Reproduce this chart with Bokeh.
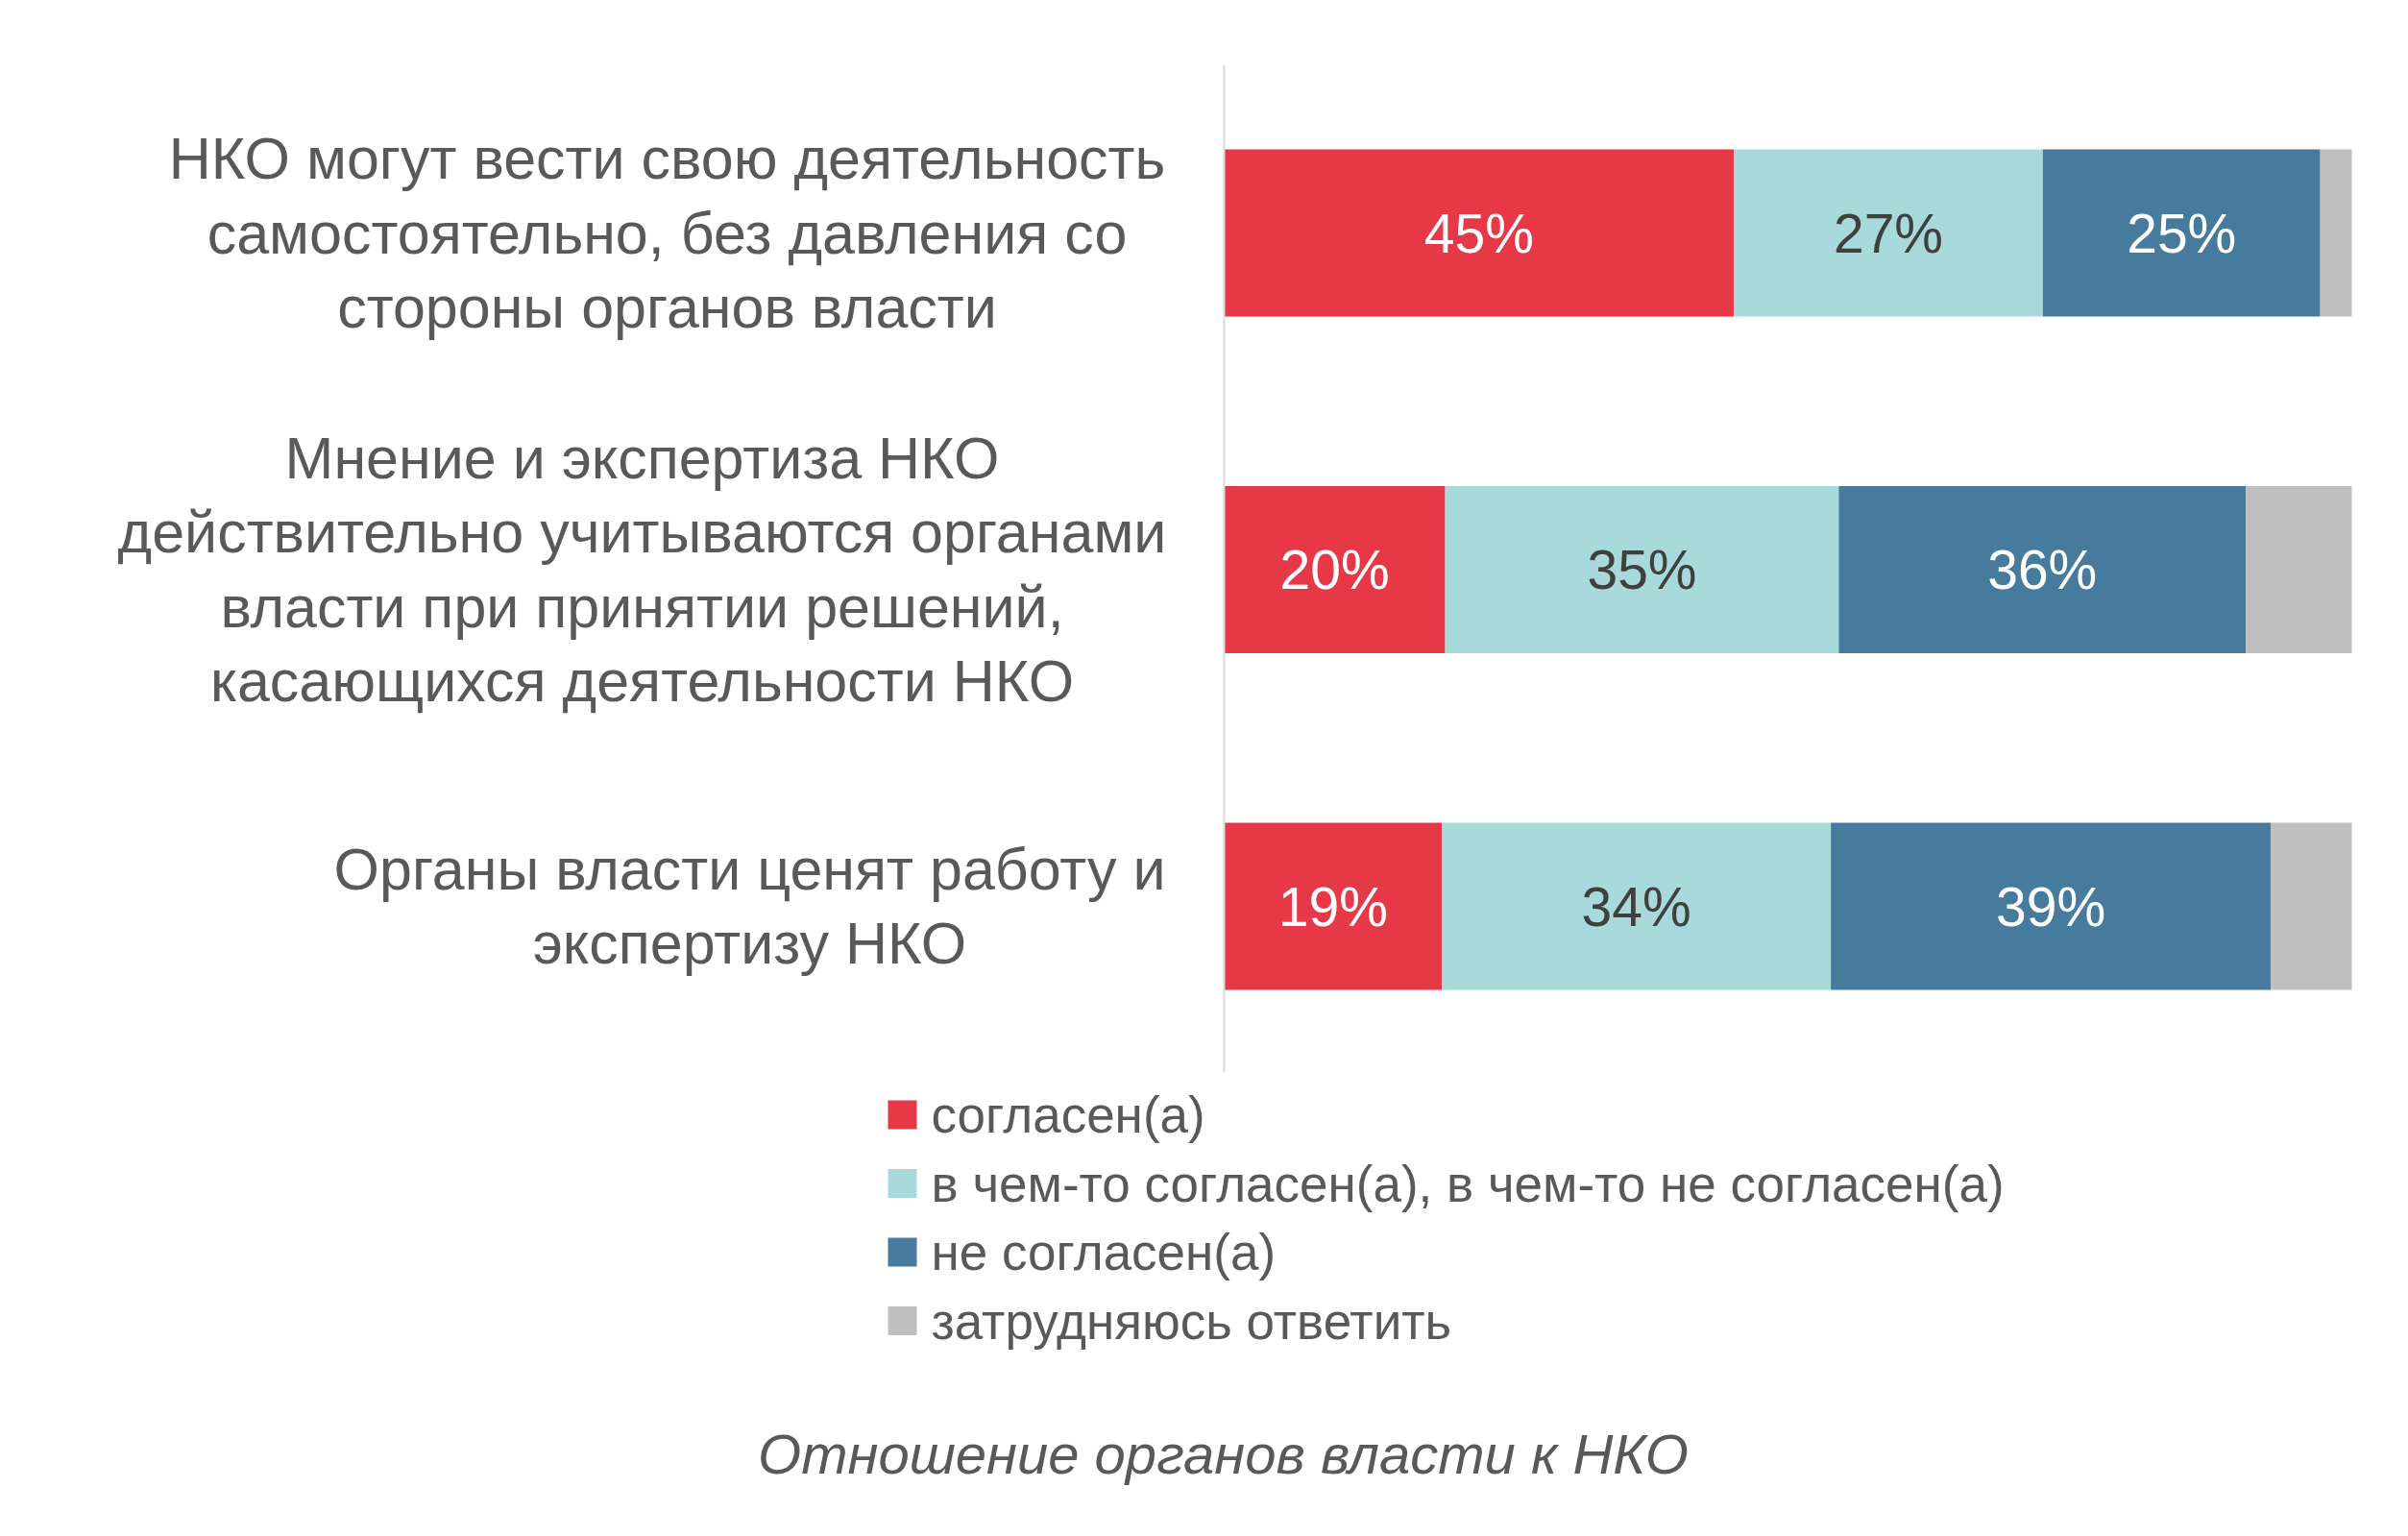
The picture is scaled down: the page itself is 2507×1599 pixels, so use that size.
from bokeh.plotting import figure
from bokeh.models import Range1d, ColumnDataSource
from bokeh.core.properties import value
from bokeh.embed import file_html
from bokeh.resources import INLINE

# ---------------- data ----------------
categories = [
    "НКО могут вести свою деятельность\nсамостоятельно, без давления со\nстороны органов власти",
    "Мнение и экспертиза НКО\nдействительно учитываются органами\nвласти при принятии решений,\nкасающихся деятельности НКО",
    "Органы власти ценят работу и\nэкспертизу НКО",
]
series = ["согласен(а)", "в чем-то согласен(а), в чем-то не согласен(а)",
          "не согласен(а)", "затрудняюсь ответить"]
agree = [45.2, 19.6, 19.3]
partly = [27.4, 34.9, 34.5]
disagree = [24.6, 36.1, 39.0]
hard_to_say = [2.8, 9.4, 7.2]
title_text = "Отношение органов власти к НКО"

colors = ["#E73848", "#A8D9DB", "#467B9D", "#BFBFBF"]
label_colors = ["#FFFFFF", "#404040", "#FFFFFF", None]
TEXT = "#595959"
FONT = "Liberation Sans"

# ---------------- layout (page pixels) ----------------
W, H = 2507, 1599
X0, X100 = 1274, 2448          # px for 0% and 100%
PXU = (X100 - X0) / 100.0
Y0, STEP = 242, 350.5           # px of first category centre, spacing


def dx(page_x):
    return (page_x - X0) / PXU


def dy(page_y):
    return (page_y - Y0) / STEP


p = figure(width=W, height=H, output_backend="svg", toolbar_location=None,
           x_range=Range1d(-X0 / PXU, (W - X0) / PXU),
           y_range=Range1d((H - Y0) / STEP, -Y0 / STEP),
           min_border=0, outline_line_color=None)
p.axis.visible = False
p.grid.visible = False
p.background_fill_color = "white"
p.border_fill_color = "white"

idx = list(range(len(categories)))
keys = ["s0", "s1", "s2", "s3"]
src = ColumnDataSource(dict(y=idx, s0=agree, s1=partly, s2=disagree, s3=hard_to_say))
p.hbar_stack(keys, y="y", height=0.497, color=colors, line_width=0, source=src)

# vertical axis line
p.segment(x0=[0], y0=[dy(67)], x1=[0], y1=[dy(1116)], line_color="#D9D9D9", line_width=2)

# value labels
vals = [agree, partly, disagree, hard_to_say]
for k in range(3):
    xs, ys, ts = [], [], []
    for i in idx:
        left = sum(vals[j][i] for j in range(k))
        xs.append(left + vals[k][i] / 2)
        ys.append(i)
        ts.append(f"{round(vals[k][i])}%")
    p.text(x=xs, y=ys, text=ts, text_align="center", text_baseline="middle",
           text_font=value(FONT), text_font_size="57px", text_color=label_colors[k])

# category labels (lines centred within a right-aligned block)
block_centres = [694, 668, 780]
LINE = 77.3
for i, cat in enumerate(categories):
    lines = cat.split("\n")
    n = len(lines)
    cy = Y0 + STEP * i
    ys = [dy(cy + (j - (n - 1) / 2) * LINE) for j in range(n)]
    p.text(x=[dx(block_centres[i])] * n, y=ys, text=lines, text_align="center",
           text_baseline="middle", text_font=value(FONT), text_font_size="61px",
           text_color=TEXT)

# legend
leg_rows = [1160, 1231.5, 1303, 1374.5]
p.rect(x=[dx(939)] * 4, y=[dy(r) for r in leg_rows], width=30, height=30,
       width_units="screen", height_units="screen", color=colors, line_width=0)
p.text(x=[dx(969)] * 4, y=[dy(r) for r in leg_rows], text=series,
       text_align="left", text_baseline="middle", text_font=value(FONT),
       text_font_size="53px", text_color=TEXT)

# title
p.text(x=[dx(1273)], y=[dy(1513)], text=[title_text], text_align="center",
       text_baseline="middle", text_font=value(FONT), text_font_style="italic",
       text_font_size="58px", text_color=TEXT)

open("out.html", "w").write(file_html(p, INLINE))
